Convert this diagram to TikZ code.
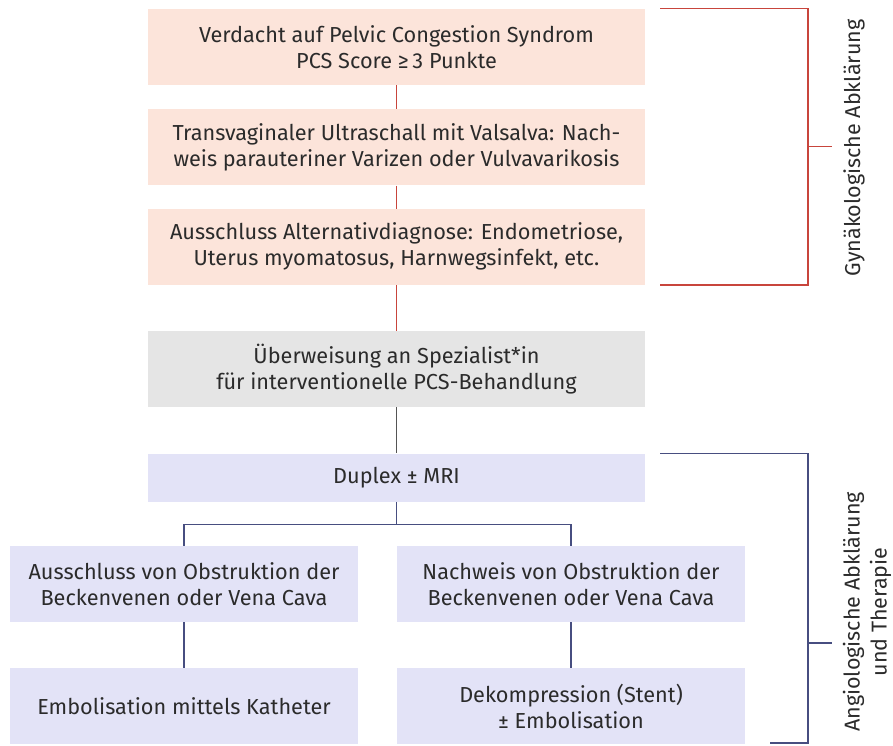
\documentclass[tikz,border=0pt]{standalone}
\usepackage{fontspec}
\setmainfont{Fira Sans}
\usetikzlibrary{positioning}

\definecolor{gynfill}{HTML}{FCE4DA}
\definecolor{grayfill}{HTML}{E5E5E5}
\definecolor{angiofill}{HTML}{E3E3F7}
\definecolor{gynline}{HTML}{C8453C}
\definecolor{angioline}{HTML}{474E80}
\definecolor{midline}{HTML}{555555}
\definecolor{textgray}{HTML}{2B2B2B}

\tikzset{
  box/.style={fill=#1, minimum width=497pt, minimum height=76pt, inner sep=0pt,
    align=center, text=textgray, font=\fontsize{21.7}{26}\selectfont},
  smallbox/.style={box=angiofill, minimum width=348pt},
  gynconn/.style={draw=gynline, line width=1.3pt},
  angioconn/.style={draw=angioline, line width=1.3pt},
  sidelabel/.style={rotate=90, align=center, text=textgray, font=\fontsize{21.5}{27}\selectfont}
}

\begin{document}
\begin{tikzpicture}[x=1pt, y=1pt]
  \useasboundingbox (0,0) rectangle (893,-745);

  % gynaekologische Abklaerung
  \node[box=gynfill] (verdacht) at (396.5,-47) {Verdacht auf Pelvic Congestion Syndrom\\PCS Score ≥\,3 Punkte};
  \node[box=gynfill, below=24pt of verdacht] (tvus) {Transvaginaler Ultraschall mit Valsalva: Nach-\\weis parauteriner Varizen oder Vulvavarikosis};
  \node[box=gynfill, below=23pt of tvus] (ausschluss) {Ausschluss Alternativdiagnose: Endometriose,\\Uterus myomatosus, Harnwegsinfekt, etc.};
  \node[box=grayfill, below=46pt of ausschluss] (ueberweisung) {Überweisung an Spezialist*in\\für interventionelle PCS-Behandlung};

  % angiologische Abklaerung
  \node[box=angiofill, minimum height=48pt, below=46pt of ueberweisung] (duplex) {Duplex ± MRI};
  \node[smallbox] (keineobs) at (184,-584) {Ausschluss von Obstruktion der\\Beckenvenen oder Vena Cava};
  \node[smallbox] (obs) at (571,-584) {Nachweis von Obstruktion der\\Beckenvenen oder Vena Cava};
  \node[smallbox, below=46pt of keineobs] (embol) {Embolisation mittels Katheter};
  \node[smallbox, below=46pt of obs] (stent) {Dekompression (Stent)\\± Embolisation};

  \draw[gynconn] (verdacht) -- (tvus);
  \draw[gynconn] (tvus) -- (ausschluss);
  \draw[gynconn] (ausschluss) -- (ueberweisung);
  \draw[draw=midline, line width=1.3pt] (ueberweisung) -- (duplex);
  \coordinate[below=23pt of duplex.south] (split);
  \draw[angioconn] (duplex) -- (split) -| (keineobs.north);
  \draw[angioconn] (split) -| (obs.north);
  \draw[angioconn] (keineobs) -- (embol);
  \draw[angioconn] (obs) -- (stent);

  % Klammern
  \draw[gynconn] ([xshift=15pt]verdacht.north east) -| (808,-146.5) |- ([xshift=15pt]ausschluss.south east);
  \draw[gynconn] (808,-146.5) -- (832,-146.5);
  \node[sidelabel] (gynlabel) at (854,-148) {Gynäkologische Abklärung};

  \draw[angioconn] ([xshift=15pt]duplex.north east) -| (808,-643) |- (770,-743);
  \draw[angioconn] (808,-643) -- (832,-643);
  \node[sidelabel] (angiolabel) at (867,-612) {Angiologische Abklärung\\und Therapie};
\end{tikzpicture}
\end{document}
